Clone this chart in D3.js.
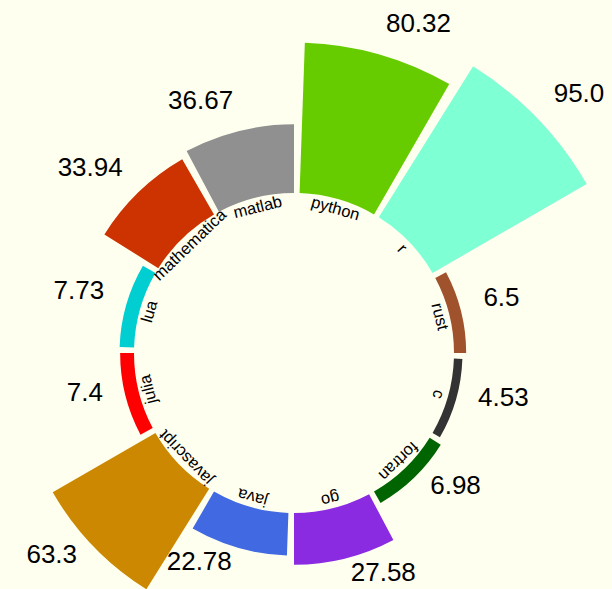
<!DOCTYPE html>
<html>
<head>
<meta charset="utf-8">
<script src="https://cdn.jsdelivr.net/npm/d3@7"></script>
<style>
  html, body { margin: 0; padding: 0; background: #fffff0; }
  svg { display: block; font-family: "Liberation Sans", Arial, Helvetica, sans-serif; }
</style>
</head>
<body>
<div id="chart"></div>
<script>
/* Data */
const languages = ["python", "r", "rust", "c", "fortran", "go", "java",
  "javascript", "julia", "lua", "mathematica", "matlab"];
const scores = [80.32, 95.0, 6.5, 4.53, 6.98, 27.58, 22.78, 63.3, 7.4, 7.73, 33.94, 36.67];
const barColors = ["#66cc00", "#7fffd4", "#a0522d", "#333333", "#006400", "#8a2be2",
  "#4169e1", "#cc8800", "#ff0000", "#00ced1", "#cc3300", "#909090"];

/* Dimensions */
const width = 612;
const height = 589;
const center = { x: 294, y: 353 };
const innerRadius = 160;
const gap = 2 * Math.PI / 180;   // angular gap before each bar

// Python-style float text: 95 -> "95.0"
function fmt(v) {
  return Number.isInteger(v) ? v.toFixed(1) : String(v);
}

function makeGraph() {
  var rows = languages.map((d, i) => ({ name: d, value: scores[i], color: barColors[i] }));

  var svg = d3.select("#chart").append("svg")
    .attr("width", width)
    .attr("height", height);

  svg.append("rect")
    .attr("width", width).attr("height", height)
    .attr("fill", "#fffff0");

  var g = svg.append("g")
    .attr("transform", "translate(" + center.x + "," + center.y + ")");

  // Angle scale (0 at 12 o'clock, clockwise)
  var x = d3.scaleBand()
    .domain(languages)
    .range([0, 2 * Math.PI]);

  // Radial scale
  var y = d3.scaleLinear()
    .domain([0, 95])
    .range([innerRadius, 338]);

  var arc = d3.arc()
    .innerRadius(innerRadius)
    .outerRadius(d => y(d.value))
    .startAngle(d => x(d.name) + gap)
    .endAngle(d => x(d.name) + x.bandwidth());

  g.selectAll("path.bar")
    .data(rows)
    .join("path")
      .attr("class", "bar")
      .attr("d", arc)
      .attr("fill", d => d.color);

  const mid = d => x(d.name) + (gap + x.bandwidth()) / 2;
  const deg = a => a * 180 / Math.PI;

  // Category labels, inside the ring, rotated along the tangent
  g.selectAll("text.cat")
    .data(rows)
    .join("text")
      .attr("class", "cat")
      .attr("transform", d => "rotate(" + deg(mid(d)) + ")")
      .attr("x", 0)
      .attr("y", -145)
      .attr("text-anchor", "middle")
      .attr("font-size", 16.5)
      .attr("fill", "#000")
      .text(d => d.name);

  // Value labels, outside each bar
  g.selectAll("text.val")
    .data(rows)
    .join("text")
      .attr("class", "val")
      .attr("x", d => (y(d.value) + 23) * Math.sin(mid(d)))
      .attr("y", d => -(y(d.value) + 23) * Math.cos(mid(d)))
      .attr("text-anchor", d => mid(d) < Math.PI ? "start" : "end")
      .attr("font-size", 26)
      .attr("fill", "#000")
      .text(d => fmt(d.value));
}

makeGraph();
</script>
</body>
</html>
